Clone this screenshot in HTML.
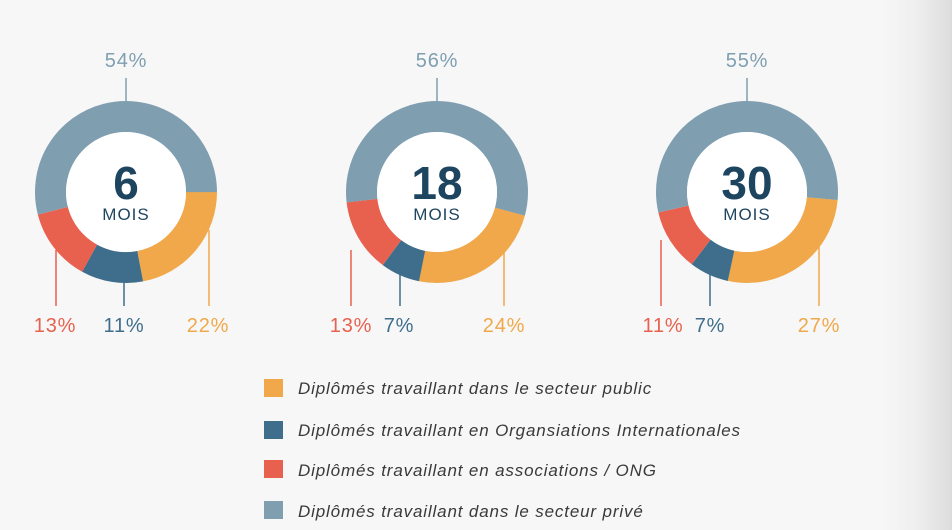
<!DOCTYPE html>
<html><head><meta charset="utf-8"><style>
html,body{margin:0;padding:0}
body{width:952px;height:530px;overflow:hidden;background:linear-gradient(to right,#f7f7f7 0,#f7f7f7 880px,#efefef 915px,#dedede 950px,#d8d8d8 952px);font-family:"Liberation Sans",sans-serif}
svg{position:absolute;left:0;top:0}
</style></head><body>
<svg width="952" height="530" viewBox="0 0 952 530" id="s">
<g font-family="Liberation Sans, sans-serif" font-size="20" text-anchor="middle">
<g transform="translate(126,192)">
<circle r="75.5" fill="none" stroke="#f0a84a" stroke-width="31" stroke-dasharray="104.36 500" transform="rotate(0)"/>
<circle r="75.5" fill="none" stroke="#3f6e8c" stroke-width="31" stroke-dasharray="52.18 500" transform="rotate(79.2)"/>
<circle r="75.5" fill="none" stroke="#e8614f" stroke-width="31" stroke-dasharray="61.67 500" transform="rotate(118.8)"/>
<circle r="75.5" fill="none" stroke="#7f9fb1" stroke-width="31" stroke-dasharray="256.17 500" transform="rotate(165.6)"/>
<circle r="60" fill="#fff"/>
<text y="7" font-size="46" font-weight="bold" fill="#1e4560">6</text>
<text y="28" font-size="17" letter-spacing="1" fill="#1e4560">MOIS</text>
</g>
<g transform="translate(437,192)">
<circle r="75.5" fill="none" stroke="#f0a84a" stroke-width="31" stroke-dasharray="113.85 500" transform="rotate(15)"/>
<circle r="75.5" fill="none" stroke="#3f6e8c" stroke-width="31" stroke-dasharray="33.2 500" transform="rotate(101.4)"/>
<circle r="75.5" fill="none" stroke="#e8614f" stroke-width="31" stroke-dasharray="61.67 500" transform="rotate(126.6)"/>
<circle r="75.5" fill="none" stroke="#7f9fb1" stroke-width="31" stroke-dasharray="265.65 500" transform="rotate(173.4)"/>
<circle r="60" fill="#fff"/>
<text y="7" font-size="46" font-weight="bold" fill="#1e4560">18</text>
<text y="28" font-size="17" letter-spacing="1" fill="#1e4560">MOIS</text>
</g>
<g transform="translate(747,192)">
<circle r="75.5" fill="none" stroke="#f0a84a" stroke-width="31" stroke-dasharray="128.1 500" transform="rotate(5)"/>
<circle r="75.5" fill="none" stroke="#3f6e8c" stroke-width="31" stroke-dasharray="33.2 500" transform="rotate(102.2)"/>
<circle r="75.5" fill="none" stroke="#e8614f" stroke-width="31" stroke-dasharray="52.18 500" transform="rotate(127.4)"/>
<circle r="75.5" fill="none" stroke="#7f9fb1" stroke-width="31" stroke-dasharray="260.9 500" transform="rotate(167)"/>
<circle r="60" fill="#fff"/>
<text y="7" font-size="46" font-weight="bold" fill="#1e4560">30</text>
<text y="28" font-size="17" letter-spacing="1" fill="#1e4560">MOIS</text>
</g>
<g stroke-width="1.5">
<line x1="126" y1="78" x2="126" y2="101" stroke="#7f9fb1"/>
<line x1="56" y1="250" x2="56" y2="306" stroke="#e8614f"/>
<line x1="124" y1="280" x2="124" y2="306" stroke="#3f6e8c"/>
<line x1="209" y1="230" x2="209" y2="306" stroke="#f0a84a"/>
<line x1="437" y1="78" x2="437" y2="101" stroke="#7f9fb1"/>
<line x1="351" y1="250" x2="351" y2="306" stroke="#e8614f"/>
<line x1="400" y1="268" x2="400" y2="306" stroke="#3f6e8c"/>
<line x1="504" y1="240" x2="504" y2="306" stroke="#f0a84a"/>
<line x1="747" y1="78" x2="747" y2="101" stroke="#7f9fb1"/>
<line x1="661" y1="240" x2="661" y2="306" stroke="#e8614f"/>
<line x1="710" y1="268" x2="710" y2="306" stroke="#3f6e8c"/>
<line x1="819" y1="240" x2="819" y2="306" stroke="#f0a84a"/>
</g>
<g font-size="20" letter-spacing="0.8">
<text x="126" y="67" fill="#7f9fb1">54%</text>
<text x="437" y="67" fill="#7f9fb1">56%</text>
<text x="747" y="67" fill="#7f9fb1">55%</text>
<text x="55" y="332" fill="#e8614f">13%</text>
<text x="124" y="332" fill="#3f6e8c">11%</text>
<text x="208" y="332" fill="#f0a84a">22%</text>
<text x="351" y="332" fill="#e8614f">13%</text>
<text x="399" y="332" fill="#3f6e8c">7%</text>
<text x="504" y="332" fill="#f0a84a">24%</text>
<text x="663" y="332" fill="#e8614f">11%</text>
<text x="710" y="332" fill="#3f6e8c">7%</text>
<text x="819" y="332" fill="#f0a84a">27%</text>
</g>
</g>
<g font-family="Liberation Sans, sans-serif" font-size="17" font-style="italic" letter-spacing="0.85" fill="#3a3a3a">
<rect x="264" y="379" width="19" height="18" fill="#f0a84a"/>
<rect x="264" y="421" width="19" height="18" fill="#3f6e8c"/>
<rect x="264" y="460" width="19" height="18" fill="#e8614f"/>
<rect x="264" y="501" width="19" height="18" fill="#7f9fb1"/>
<text x="298" y="394">Diplômés travaillant dans le secteur public</text>
<text x="298" y="436">Diplômés travaillant en Organsiations Internationales</text>
<text x="298" y="476">Diplômés travaillant en associations / ONG</text>
<text x="298" y="517">Diplômés travaillant dans le secteur privé</text>
</g>
</svg>
</body></html>
